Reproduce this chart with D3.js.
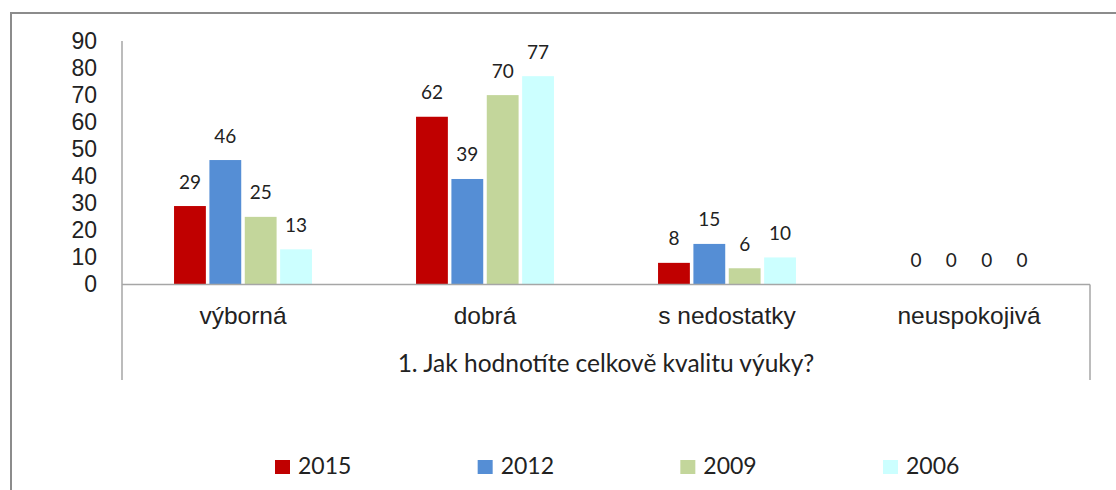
<!DOCTYPE html>
<html>
<head>
<meta charset="utf-8">
<script src="https://cdn.jsdelivr.net/npm/d3@7"></script>
<style>
  body { margin: 0; background: #fff; }
  svg { display: block; font-family: Lato, "Open Sans", sans-serif; }
  .tick text { fill: #222; }
</style>
</head>
<body>
<svg width="1116" height="490"></svg>
<script>
// data
const categories = ["výborná", "dobrá", "s nedostatky", "neuspokojivá"];
const series = ["2015", "2012", "2009", "2006"];
const values2015 = [29, 62, 8, 0];
const values2012 = [46, 39, 15, 0];
const values2009 = [25, 70, 6, 0];
const values2006 = [13, 77, 10, 0];
const yTicks = [0, 10, 20, 30, 40, 50, 60, 70, 80, 90];
const axisTitle = "1. Jak hodnotíte celkově kvalitu výuky?";

const colors = ["#C00000", "#558ED5", "#C3D69B", "#CCFFFF"];
const valuesBySeries = [values2015, values2012, values2009, values2006];

// flat rows for the bars
const rows = [];
categories.forEach((c, i) => {
  series.forEach((s, j) => rows.push({cat: c, ser: s, val: valuesBySeries[j][i], k: j}));
});

const svg = d3.select("svg");

// outer frame (only left and top edges fall inside the picture)
svg.append("path")
  .attr("d", "M11,495 L11,13 L1120,13")
  .attr("fill", "none")
  .attr("stroke", "#8c8c8c")
  .attr("stroke-width", 2);

const plotLeft = 122, plotRight = 1090, base = 284.5, plotTop = 41, plotLower = 380;

const x0 = d3.scaleBand().domain(categories).range([plotLeft, plotRight]);
const x1 = d3.scaleBand().domain(series)
  .range([48.5, x0.bandwidth() - 48.5])
  .padding(0.1);
const y = d3.scaleLinear().domain([0, 90]).range([base, plotTop]);
const color = d3.scaleOrdinal().domain(series).range(colors);

// bars
svg.append("g").selectAll("rect")
  .data(rows)
  .enter()
  .append("rect")
    .attr("x", d => x0(d.cat) + x1(d.ser))
    .attr("y", d => y(d.val))
    .attr("width", x1.bandwidth())
    .attr("height", d => y(0) - y(d.val))
    .attr("fill", d => color(d.ser));

// value labels
svg.append("g").selectAll("text")
  .data(rows)
  .enter()
  .append("text")
    .attr("x", d => x0(d.cat) + x1(d.ser) + x1.bandwidth() / 2)
    .attr("y", d => y(d.val) - 17.5)
    .attr("text-anchor", "middle")
    .attr("font-size", 19)
    .attr("fill", "#222")
    .text(d => d.val);

// y axis labels
const yAxis = svg.append("g")
  .attr("transform", `translate(${plotLeft},0)`)
  .call(d3.axisLeft(y).tickValues(yTicks).tickSize(0).tickPadding(25));
yAxis.select(".domain").remove();
yAxis.selectAll("text").attr("font-size", 23).attr("font-family", null);

// x axis category labels
const xAxis = svg.append("g")
  .attr("transform", `translate(0,${base})`)
  .call(d3.axisBottom(x0).tickSize(0).tickPadding(22));
xAxis.select(".domain").remove();
xAxis.selectAll("text").attr("font-size", 24.5).attr("font-family", null);

// axis lines
const lineColor = "#a6a6a6";
svg.append("line").attr("x1", plotLeft).attr("x2", plotLeft).attr("y1", plotTop).attr("y2", plotLower)
  .attr("stroke", lineColor).attr("stroke-width", 1.5);
svg.append("line").attr("x1", plotLeft).attr("x2", plotRight).attr("y1", base).attr("y2", base)
  .attr("stroke", lineColor).attr("stroke-width", 1.5);
svg.append("line").attr("x1", plotRight).attr("x2", plotRight).attr("y1", base).attr("y2", plotLower)
  .attr("stroke", lineColor).attr("stroke-width", 1.5);

// group title under the categories
svg.append("text")
  .attr("x", (plotLeft + plotRight) / 2)
  .attr("y", 372)
  .attr("text-anchor", "middle")
  .attr("font-size", 24.5)
  .attr("fill", "#222")
  .text(axisTitle);

// legend
const legendX = d3.scalePoint().domain(series).range([275, 883]);
const legend = svg.append("g").selectAll("g")
  .data(series)
  .enter()
  .append("g")
    .attr("transform", d => `translate(${legendX(d)},460)`);
legend.append("rect")
  .attr("width", 15)
  .attr("height", 14)
  .attr("fill", d => color(d));
legend.append("text")
  .attr("x", 23)
  .attr("y", 14)
  .attr("font-size", 23)
  .attr("fill", "#222")
  .text(d => d);
</script>
</body>
</html>
